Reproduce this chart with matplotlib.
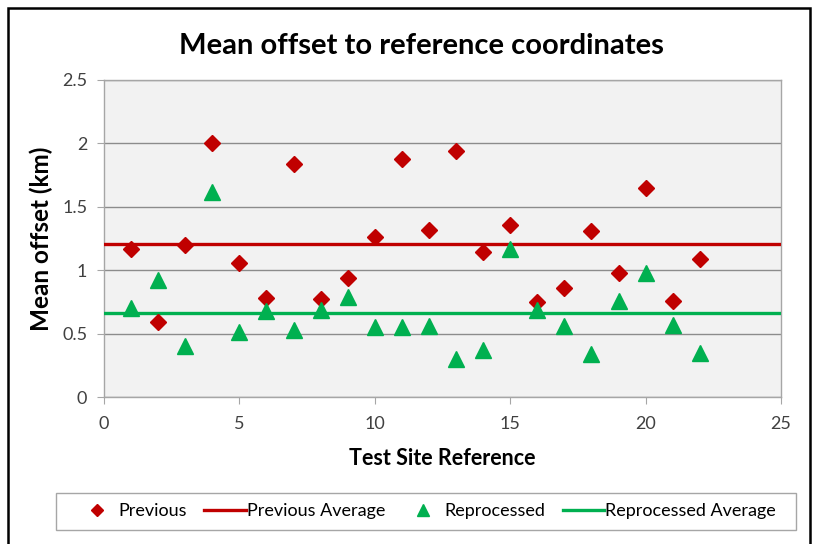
import matplotlib
matplotlib.use("Agg")
import matplotlib.pyplot as plt
from matplotlib.patches import Rectangle

sites = list(range(1, 23))
previous = [1.17, 0.59, 1.20, 2.00, 1.06, 0.78, 1.84, 0.77, 0.94, 1.26, 1.88,
            1.32, 1.94, 1.14, 1.36, 0.75, 0.86, 1.31, 0.98, 1.65, 0.76, 1.09]
reprocessed = [0.70, 0.92, 0.40, 1.62, 0.51, 0.68, 0.53, 0.69, 0.79, 0.555, 0.555,
               0.56, 0.30, 0.37, 1.17, 0.69, 0.56, 0.34, 0.76, 0.98, 0.57, 0.35]
previous_avg = 1.205
reprocessed_avg = 0.663
xticks = [0, 5, 10, 15, 20, 25]
yticks = [0, 0.5, 1, 1.5, 2, 2.5]
yticklabels = ["0", "0.5", "1", "1.5", "2", "2.5"]

RED = "#C00000"
GREEN = "#00B050"
plt.rcParams['font.family'] = ['Lato', 'DejaVu Sans']

fig = plt.figure(figsize=(8.17, 5.44), dpi=100)
fig.patches.append(Rectangle((8/817, -0.05), (810-8)/817, 1.05 - 8/544,
                             transform=fig.transFigure, fill=False,
                             edgecolor='black', linewidth=1.8))
# legend box
fig.patches.append(Rectangle((56/817, 1-530/544), (796-56)/817, (530-493)/544,
                             transform=fig.transFigure, fill=False,
                             edgecolor='#A6A6A6', linewidth=1.0))
ax = fig.add_axes([104/817, 1-397/544, (781-104)/817, (397-80)/544])
ax.set_facecolor("#F2F2F2")

h1, = ax.plot(sites, previous, linestyle='none', marker='D', markersize=8.2,
              color=RED, label='Previous', zorder=4)
h2 = ax.axhline(previous_avg, color=RED, linewidth=2.4, label='Previous Average', zorder=3)
h3, = ax.plot(sites, reprocessed, linestyle='none', marker='^', markersize=12,
              color=GREEN, label='Reprocessed', zorder=4)
h4 = ax.axhline(reprocessed_avg, color=GREEN, linewidth=2.4, label='Reprocessed Average', zorder=3)

ax.set_xlim(0, 25)
ax.set_ylim(0, 2.5)
ax.set_xticks(xticks)
ax.set_xticklabels([str(t) for t in xticks])
ax.set_yticks(yticks)
ax.set_yticklabels(yticklabels)
ax.grid(axis='y', color='#8C8C8C', linewidth=1.0)
ax.set_axisbelow(True)
for s in ax.spines.values():
    s.set_color('#A6A6A6')
    s.set_linewidth(1.0)
ax.tick_params(axis='both', colors='#A6A6A6', labelcolor='#404040', labelsize=13,
               length=5, direction='out')
ax.tick_params(axis='x', pad=9)
ax.tick_params(axis='y', pad=7)

ax.set_xlabel("Test Site Reference", fontsize=15.5, fontweight='bold')
ax.xaxis.set_label_coords(0.5, (397-448)/317)
ax.set_ylabel("Mean offset (km)", fontsize=17.5, fontweight='bold')
ax.yaxis.set_label_coords((53-104)/677, 0.5)
fig.text(421/817, 1 - 46/544, "Mean offset to reference coordinates",
         ha='center', va='center', fontsize=21, fontweight='bold')

leg = fig.legend(handles=[h1, h2, h3, h4], loc='center',
                 bbox_to_anchor=(426/817, 1 - 511/544), ncol=4, fontsize=13,
                 frameon=False, handlelength=2.3, columnspacing=0.95,
                 handletextpad=0.05, borderpad=0.3, markerscale=0.7)

fig.savefig("out.png", dpi=100)
